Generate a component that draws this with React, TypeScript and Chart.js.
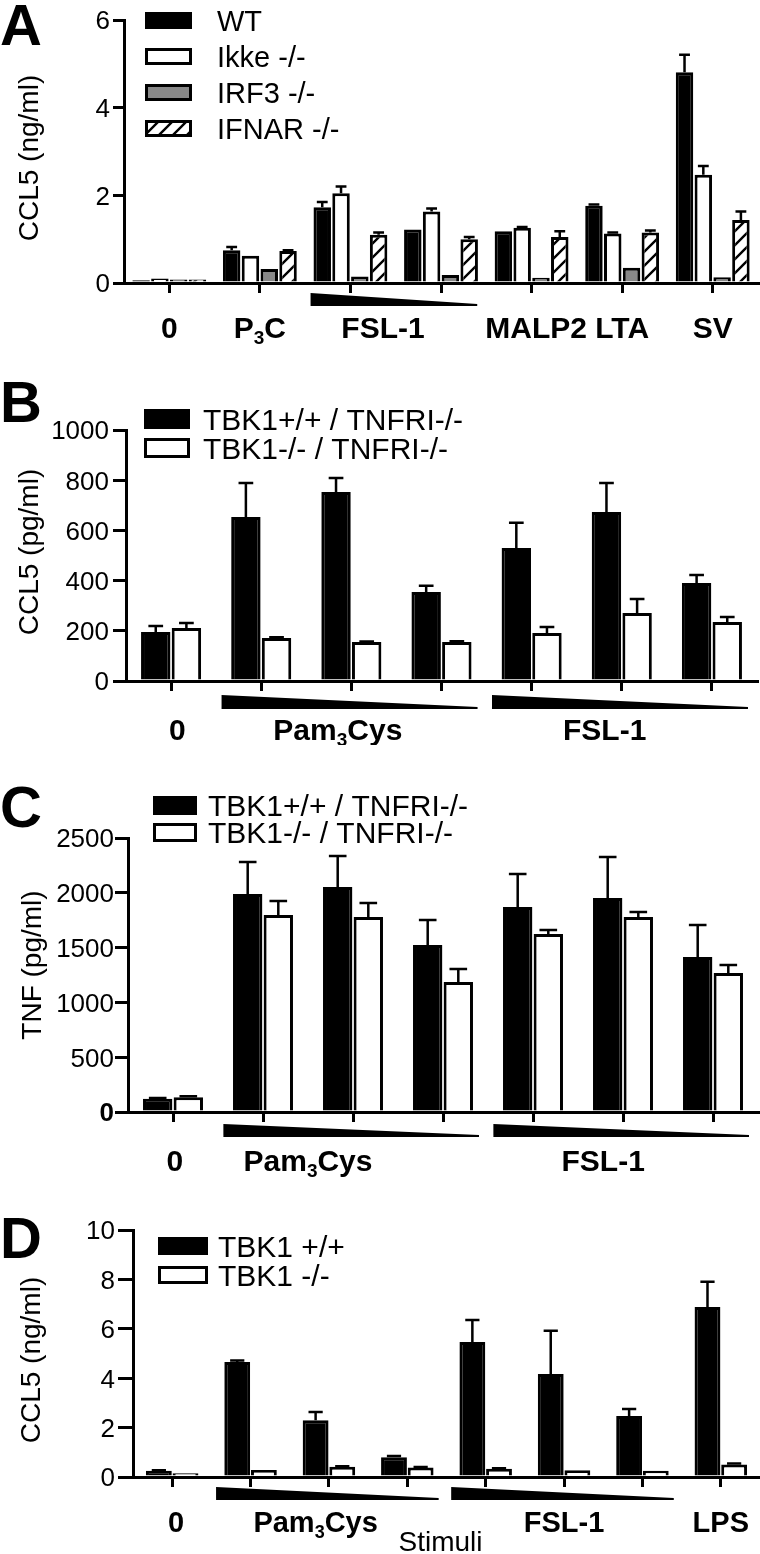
import React, { useEffect, useRef } from 'react';
import { Chart, registerables } from 'chart.js';

Chart.register(...registerables);

const FONT = '"Liberation Sans", Arial, Helvetica, sans-serif';

// ---------------- Panel A data ----------------
const categoriesA = ['0', 'P3C', 'FSL-1 high', 'FSL-1 low', 'MALP2', 'LTA', 'SV'];
const namesA = ['WT', 'Ikke -/-', 'IRF3 -/-', 'IFNAR -/-'];
const wtA = [0.06, 0.75, 1.73, 1.22, 1.18, 1.76, 4.81];
const wtErrA = [0, 0.07, 0.12, 0, 0, 0.03, 0.4];
const ikkeA = [0.1, 0.62, 2.05, 1.63, 1.26, 1.13, 2.47];
const ikkeErrA = [0, 0, 0.15, 0.07, 0.02, 0.02, 0.2];
const irf3A = [0.08, 0.32, 0.15, 0.18, 0.12, 0.35, 0.13];
const irf3ErrA = [0, 0, 0, 0, 0, 0, 0];
const ifnarA = [0.08, 0.73, 1.1, 1.0, 1.05, 1.15, 1.44];
const ifnarErrA = [0, 0.02, 0.05, 0.05, 0.13, 0.05, 0.19];
const labelsA = ['0', 'P_3C', 'FSL-1', 'MALP2', 'LTA', 'SV'];
const labelFromA = [0, 1, 2, 4, 5, 6];
const labelToA = [0, 1, 3, 4, 5, 6];
const wedgeFromA = [2];
const wedgeToA = [3];

// ---------------- Panel B data ----------------
const categoriesB = ['0', 'Pam3Cys 1', 'Pam3Cys 2', 'Pam3Cys 3', 'FSL-1 1', 'FSL-1 2', 'FSL-1 3'];
const namesB = ['TBK1+/+ / TNFRI-/-', 'TBK1-/- / TNFRI-/-'];
const wtB = [195, 653, 753, 355, 530, 673, 390];
const wtErrB = [24, 136, 56, 24, 100, 116, 32];
const koB = [211, 171, 155, 155, 191, 271, 235];
const koErrB = [20, 3, 2, 3, 24, 56, 20];
const labelsB = ['0', 'Pam_3Cys', 'FSL-1'];
const labelFromB = [0, 1, 4];
const labelToB = [0, 3, 6];
const wedgeFromB = [1, 4];
const wedgeToB = [3, 6];

// ---------------- Panel C data ----------------
const categoriesC = ['0', 'Pam3Cys 1', 'Pam3Cys 2', 'Pam3Cys 3', 'FSL-1 1', 'FSL-1 2', 'FSL-1 3'];
const namesC = ['TBK1+/+ / TNFRI-/-', 'TBK1-/- / TNFRI-/-'];
const wtC = [120, 1989, 2053, 1524, 1870, 1953, 1414];
const wtErrC = [8, 292, 283, 228, 302, 374, 292];
const koC = [135, 1797, 1779, 1186, 1624, 1779, 1268];
const koErrC = [8, 128, 128, 119, 37, 46, 73];
const labelsC = ['0', 'Pam_3Cys', 'FSL-1'];
const labelFromC = [0, 1, 4];
const labelToC = [0, 3, 6];
const wedgeFromC = [1, 4];
const wedgeToC = [3, 6];

// ---------------- Panel D data ----------------
const categoriesD = ['0', 'Pam3Cys 1', 'Pam3Cys 2', 'Pam3Cys 3', 'FSL-1 1', 'FSL-1 2', 'FSL-1 3', 'LPS'];
const namesD = ['TBK1 +/+', 'TBK1 -/-'];
const wtD = [0.25, 4.66, 2.3, 0.8, 5.47, 4.17, 2.47, 6.88];
const wtErrD = [0.02, 0.06, 0.33, 0.05, 0.89, 1.75, 0.28, 1.02];
const koD = [0.15, 0.28, 0.42, 0.38, 0.33, 0.27, 0.25, 0.51];
const koErrD = [0, 0, 0.02, 0.02, 0.02, 0, 0, 0.04];
const labelsD = ['0', 'Pam_3Cys', 'FSL-1', 'LPS'];
const labelFromD = [0, 1, 4, 7];
const labelToD = [0, 3, 6, 7];
const wedgeFromD = [1, 4];
const wedgeToD = [3, 6];

// ---------------- helpers ----------------
function makeHatch(ctx: CanvasRenderingContext2D) {
  const s = 14;
  const c = document.createElement('canvas');
  c.width = s;
  c.height = s;
  const g = c.getContext('2d')!;
  g.fillStyle = '#fff';
  g.fillRect(0, 0, s, s);
  g.strokeStyle = '#000';
  g.lineWidth = 2.4;
  g.beginPath();
  g.moveTo(0, s);
  g.lineTo(s, 0);
  g.moveTo(-s / 2, s / 2);
  g.lineTo(s / 2, -s / 2);
  g.moveTo(s / 2, s * 1.5);
  g.lineTo(s * 1.5, s / 2);
  g.stroke();
  return ctx.createPattern(c, 'repeat')!;
}

function drawRich(ctx: CanvasRenderingContext2D, text: string, cx: number, cy: number, size: number, bold: boolean) {
  const segs: { t: string; sub: boolean }[] = [];
  const re = /_(\d)/g;
  let last = 0;
  let m: RegExpExecArray | null;
  while ((m = re.exec(text))) {
    if (m.index > last) segs.push({ t: text.slice(last, m.index), sub: false });
    segs.push({ t: m[1], sub: true });
    last = m.index + 2;
  }
  if (last < text.length) segs.push({ t: text.slice(last), sub: false });
  const w = bold ? 'bold ' : '';
  const main = `${w}${size}px ${FONT}`;
  const sub = `${w}${Math.round(size * 0.62)}px ${FONT}`;
  let total = 0;
  for (const s of segs) {
    ctx.font = s.sub ? sub : main;
    total += ctx.measureText(s.t).width;
  }
  let x = cx - total / 2;
  ctx.textAlign = 'left';
  ctx.textBaseline = 'alphabetic';
  const base = cy + size * 0.358;
  for (const s of segs) {
    ctx.font = s.sub ? sub : main;
    ctx.fillText(s.t, x, s.sub ? base + size * 0.2 : base);
    x += ctx.measureText(s.t).width;
  }
}

type Series = { name: string; values: number[]; errors: number[]; fill: string };

type Layout = {
  top: number;
  height: number;
  areaLeft: number;
  areaRight: number;
  areaTop: number;
  areaBottom: number;
  yMax: number;
  yStep: number;
  tickLen: number;
  tickGap: number;
  tickFont: number;
  boldZero: boolean;
  letter: string;
  letterBaseline: number;
  title: string;
  titleX: number;
  titleCenterY: number;
  legendBoxX: number;
  legendBoxW: number;
  legendBoxH: number;
  legendFirstY: number;
  legendGap: number;
  legendTextX: number;
  legendFont: number;
  wedgeTop: number;
  wedgeBottom: number;
  labelY: number;
  labelFont: number;
  labelShift: number[];
  catPct: number;
  barPct: number;
  capFrac: number;
  extraText?: string;
  extraY?: number;
};

type PanelCfg = {
  layout: Layout;
  categories: string[];
  series: Series[];
  labels: string[];
  labelFrom: number[];
  labelTo: number[];
  wedgeFrom: number[];
  wedgeTo: number[];
};

function makeDecor(cfg: PanelCfg) {
  const L = cfg.layout;
  const py = (v: number) => v - L.top;
  return {
    id: 'decor',
    afterDatasetsDraw(chart: any) {
      const ctx: CanvasRenderingContext2D = chart.ctx;
      const ys = chart.scales.y;
      ctx.save();
      ctx.strokeStyle = '#000';
      ctx.lineWidth = 2.5;
      chart.data.datasets.forEach((ds: any, i: number) => {
        const meta = chart.getDatasetMeta(i);
        meta.data.forEach((el: any, j: number) => {
          const e = ds.err[j];
          if (!e) return;
          const top = ys.getPixelForValue(ds.data[j] + e);
          const w = el.width * L.capFrac;
          ctx.beginPath();
          ctx.moveTo(el.x, el.y);
          ctx.lineTo(el.x, top);
          ctx.moveTo(el.x - w / 2, top);
          ctx.lineTo(el.x + w / 2, top);
          ctx.stroke();
        });
      });
      ctx.restore();
    },
    afterDraw(chart: any) {
      const ctx: CanvasRenderingContext2D = chart.ctx;
      const xs = chart.scales.x;
      const ys = chart.scales.y;
      const area = chart.chartArea;
      ctx.save();
      ctx.fillStyle = '#000';

      // panel letter
      ctx.font = `bold 58px ${FONT}`;
      ctx.textAlign = 'left';
      ctx.textBaseline = 'alphabetic';
      ctx.fillText(L.letter, 0, py(L.letterBaseline));

      // y title
      ctx.save();
      ctx.translate(L.titleX, py(L.titleCenterY));
      ctx.rotate(-Math.PI / 2);
      ctx.font = `28px ${FONT}`;
      ctx.textAlign = 'center';
      ctx.textBaseline = 'alphabetic';
      ctx.fillText(L.title, 0, 0);
      ctx.restore();

      // y tick labels
      ctx.textAlign = 'right';
      ctx.textBaseline = 'alphabetic';
      for (const t of ys.ticks) {
        const y = ys.getPixelForValue(t.value);
        const bold = L.boldZero && t.value === 0;
        ctx.font = `${bold ? 'bold ' : ''}${L.tickFont}px ${FONT}`;
        ctx.fillText(String(t.value), area.left - L.tickGap, y + L.tickFont * 0.358);
      }

      // legend
      cfg.series.forEach((s, i) => {
        const ds = chart.data.datasets[i];
        const by = py(L.legendFirstY + i * L.legendGap);
        ctx.fillStyle = ds.backgroundColor;
        ctx.fillRect(L.legendBoxX, by, L.legendBoxW, L.legendBoxH);
        ctx.strokeStyle = '#000';
        ctx.lineWidth = 3;
        ctx.strokeRect(L.legendBoxX + 1.5, by + 1.5, L.legendBoxW - 3, L.legendBoxH - 3);
        ctx.fillStyle = '#000';
        ctx.font = `${L.legendFont}px ${FONT}`;
        ctx.textAlign = 'left';
        ctx.textBaseline = 'alphabetic';
        ctx.fillText(s.name, L.legendTextX, by + L.legendBoxH / 2 + L.legendFont * 0.358);
      });

      // dose wedges
      ctx.fillStyle = '#000';
      cfg.wedgeFrom.forEach((f, i) => {
        const x1 = xs.getPixelForValue(f - 0.44);
        const x2 = Math.min(xs.getPixelForValue(cfg.wedgeTo[i] + 0.4), area.right);
        const t = py(L.wedgeTop);
        const b = py(L.wedgeBottom);
        ctx.beginPath();
        ctx.moveTo(x1, t);
        ctx.lineTo(x2, b - 2);
        ctx.lineTo(x2, b);
        ctx.lineTo(x1, b);
        ctx.closePath();
        ctx.fill();
      });

      // category / group labels
      cfg.labels.forEach((lab, i) => {
        const mid = (cfg.labelFrom[i] + cfg.labelTo[i]) / 2 + (L.labelShift[i] || 0);
        drawRich(ctx, lab, xs.getPixelForValue(mid), py(L.labelY), L.labelFont, true);
      });

      if (L.extraText) {
        ctx.font = `28px ${FONT}`;
        ctx.textAlign = 'center';
        ctx.textBaseline = 'alphabetic';
        ctx.fillText(L.extraText, (area.left + area.right) / 2 - 6, py(L.extraY!) + 28 * 0.358);
      }
      ctx.restore();
    },
  };
}

function Panel({ cfg }: { cfg: PanelCfg }) {
  const ref = useRef<HTMLCanvasElement>(null);
  useEffect(() => {
    const canvas = ref.current!;
    const ctx = canvas.getContext('2d')!;
    const L = cfg.layout;
    const datasets = cfg.series.map((s) => ({
      label: s.name,
      data: s.values,
      err: s.errors,
      backgroundColor: s.fill === 'hatch' ? makeHatch(ctx) : s.fill,
      borderColor: '#000',
      borderWidth: 3,
      categoryPercentage: L.catPct,
      barPercentage: L.barPct,
    }));
    const chart = new Chart(canvas, {
      type: 'bar',
      data: { labels: cfg.categories, datasets: datasets as any },
      options: {
        responsive: false,
        animation: false,
        devicePixelRatio: 1,
        layout: {
          autoPadding: false,
          padding: {
            top: L.areaTop - L.top,
            left: 0,
            right: 760 - L.areaRight,
            bottom: L.top + L.height - L.areaBottom - 12,
          },
        },
        plugins: { legend: { display: false }, tooltip: { enabled: false } },
        scales: {
          x: {
            type: 'category',
            offset: true,
            grid: {
              display: true,
              drawOnChartArea: false,
              drawTicks: true,
              tickLength: 10,
              color: '#000',
              lineWidth: 3,
              offset: false,
            },
            border: { display: true, color: '#000', width: 3, z: 1 },
            ticks: { display: false, autoSkip: false },
            afterFit: (s: any) => {
              s.height = 12;
            },
          },
          y: {
            type: 'linear',
            min: 0,
            max: L.yMax,
            ticks: { display: false, stepSize: L.yStep },
            grid: {
              drawOnChartArea: false,
              drawTicks: true,
              tickLength: L.tickLen,
              color: '#000',
              lineWidth: 3,
            },
            border: { display: true, color: '#000', width: 3, z: 1 },
            afterFit: (s: any) => {
              s.width = L.areaLeft;
            },
          },
        },
      } as any,
      plugins: [makeDecor(cfg) as any],
    });
    return () => chart.destroy();
  }, []);
  const L = cfg.layout;
  return (
    <canvas
      ref={ref}
      width={760}
      height={L.height}
      style={{ position: 'absolute', left: 0, top: L.top, width: 760, height: L.height }}
    />
  );
}

const panelA: PanelCfg = {
  categories: categoriesA,
  series: [
    { name: namesA[0], values: wtA, errors: wtErrA, fill: '#000' },
    { name: namesA[1], values: ikkeA, errors: ikkeErrA, fill: '#fff' },
    { name: namesA[2], values: irf3A, errors: irf3ErrA, fill: '#888' },
    { name: namesA[3], values: ifnarA, errors: ifnarErrA, fill: 'hatch' },
  ],
  labels: labelsA,
  labelFrom: labelFromA,
  labelTo: labelToA,
  wedgeFrom: wedgeFromA,
  wedgeTo: wedgeToA,
  layout: {
    top: 0, height: 345,
    areaLeft: 124, areaRight: 758, areaTop: 20, areaBottom: 283,
    yMax: 6, yStep: 2, tickLen: 11, tickGap: 14, tickFont: 26, boldZero: false,
    letter: 'A', letterBaseline: 45,
    title: 'CCL5 (ng/ml)', titleX: 38, titleCenterY: 158,
    legendBoxX: 145, legendBoxW: 47, legendBoxH: 17, legendFirstY: 12, legendGap: 36, legendTextX: 217, legendFont: 29,
    wedgeTop: 293, wedgeBottom: 306,
    labelY: 327, labelFont: 30, labelShift: [0, 0, -0.14, 0.05, 0, 0],
    catPct: 0.83, barPct: 0.93, capFrac: 0.62,
  },
};

const panelB: PanelCfg = {
  categories: categoriesB,
  series: [
    { name: namesB[0], values: wtB, errors: wtErrB, fill: '#000' },
    { name: namesB[1], values: koB, errors: koErrB, fill: '#fff' },
  ],
  labels: labelsB,
  labelFrom: labelFromB,
  labelTo: labelToB,
  wedgeFrom: wedgeFromB,
  wedgeTo: wedgeToB,
  layout: {
    top: 345, height: 400,
    areaLeft: 126, areaRight: 757, areaTop: 430, areaBottom: 681,
    yMax: 1000, yStep: 200, tickLen: 13, tickGap: 17, tickFont: 26, boldZero: false,
    letter: 'B', letterBaseline: 422,
    title: 'CCL5 (pg/ml)', titleX: 38, titleCenterY: 552,
    legendBoxX: 144, legendBoxW: 46, legendBoxH: 20, legendFirstY: 409, legendGap: 29, legendTextX: 203, legendFont: 30,
    wedgeTop: 695, wedgeBottom: 709,
    labelY: 729, labelFont: 30, labelShift: [0.07, -0.15, -0.19],
    catPct: 0.68, barPct: 0.96, capFrac: 0.5,
  },
};

const panelC: PanelCfg = {
  categories: categoriesC,
  series: [
    { name: namesC[0], values: wtC, errors: wtErrC, fill: '#000' },
    { name: namesC[1], values: koC, errors: koErrC, fill: '#fff' },
  ],
  labels: labelsC,
  labelFrom: labelFromC,
  labelTo: labelToC,
  wedgeFrom: wedgeFromC,
  wedgeTo: wedgeToC,
  layout: {
    top: 745, height: 440,
    areaLeft: 128, areaRight: 758, areaTop: 838, areaBottom: 1112,
    yMax: 2500, yStep: 500, tickLen: 13, tickGap: 14, tickFont: 26, boldZero: true,
    letter: 'C', letterBaseline: 827,
    title: 'TNF (pg/ml)', titleX: 41, titleCenterY: 965,
    legendBoxX: 153, legendBoxW: 44, legendBoxH: 19, legendFirstY: 796, legendGap: 27, legendTextX: 208, legendFont: 30,
    wedgeTop: 1124, wedgeBottom: 1137,
    labelY: 1160, labelFont: 30, labelShift: [0.02, -0.5, -0.22],
    catPct: 0.68, barPct: 0.96, capFrac: 0.6,
  },
};

const panelD: PanelCfg = {
  categories: categoriesD,
  series: [
    { name: namesD[0], values: wtD, errors: wtErrD, fill: '#000' },
    { name: namesD[1], values: koD, errors: koErrD, fill: '#fff' },
  ],
  labels: labelsD,
  labelFrom: labelFromD,
  labelTo: labelToD,
  wedgeFrom: wedgeFromD,
  wedgeTo: wedgeToD,
  layout: {
    top: 1185, height: 369,
    areaLeft: 133, areaRight: 760, areaTop: 1230, areaBottom: 1477,
    yMax: 10, yStep: 2, tickLen: 15, tickGap: 18, tickFont: 26, boldZero: false,
    letter: 'D', letterBaseline: 1258,
    title: 'CCL5 (ng/ml)', titleX: 40, titleCenterY: 1360,
    legendBoxX: 158, legendBoxW: 50, legendBoxH: 18, legendFirstY: 1237, legendGap: 29, legendTextX: 218, legendFont: 30,
    wedgeTop: 1487, wedgeBottom: 1500,
    labelY: 1522, labelFont: 29, labelShift: [0.05, -0.17, 0, 0],
    catPct: 0.68, barPct: 0.97, capFrac: 0.55,
    extraText: 'Stimuli', extraY: 1541,
  },
};

export default function App() {
  return (
    <div style={{ position: 'absolute', left: 0, top: 0, width: 760, height: 1554, background: '#fff', overflow: 'hidden' }}>
      <Panel cfg={panelA} />
      <Panel cfg={panelB} />
      <Panel cfg={panelC} />
      <Panel cfg={panelD} />
    </div>
  );
}
